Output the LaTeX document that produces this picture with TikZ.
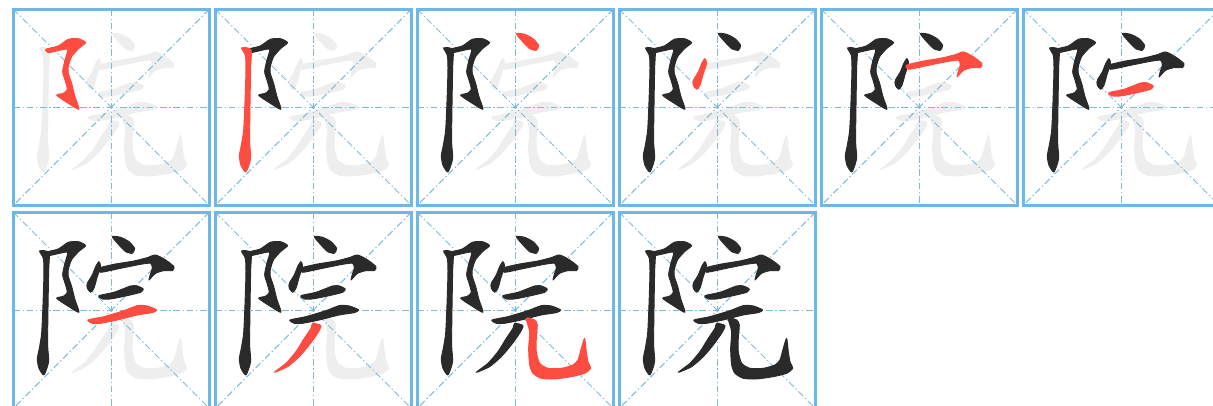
\documentclass[tikz,border=0pt]{standalone}
\usepackage{xcolor}
\definecolor{boxblue}{HTML}{6DB8EA}
\definecolor{guideblue}{HTML}{7DBBDC}
\definecolor{ghostgrey}{HTML}{EEEEEE}
\definecolor{inkblack}{HTML}{2A2A2A}
\definecolor{inkred}{HTML}{FF4C40}
\tikzset{
  strokeline/.style={smooth cycle, tension=0.4},
  strokefill/.style={fill=#1, draw=#1, line width=0.7pt, line join=round},
  guideline/.style={guideblue, line width=0.75pt, dash pattern=on 5pt off 2pt on 1pt off 2pt},
  boxline/.style={boxblue, line width=1.9pt}
}
% the nine strokes of the character, one cell wide
\newcommand{\drawstroke}[2]{%
  \ifcase#1\or
  \path[strokefill=#2] plot[strokeline] coordinates {(125,142) (163,132) (193,112) (223,110) (245,122) (225,139) (203,164) (193,194) (193,214) (203,244) (213,284) (225,322) (193,304) (158,280) (178,274) (190,262) (183,234) (176,209) (183,174) (191,142) (163,146) (133,152)};
  \or
  \path[strokefill=#2] plot[strokeline] coordinates {(107,138) (135,143) (134,200) (132,320) (131,420) (134,470) (120,510) (105,490) (100,462) (106,430) (113,385) (117,300) (120,200) (118,160)};
  \or
  \path[strokefill=#2] plot[strokeline] coordinates {(325,95) (350,97) (375,110) (392,130) (385,145) (365,140) (345,120)};
  \or
  \path[strokefill=#2] plot[strokeline] coordinates {(285,170) (290,185) (280,215) (270,250) (260,262) (250,250) (250,235) (265,210) (275,185)};
  \or
  \path[strokefill=#2] plot[strokeline] coordinates {(283,190) (330,178) (390,168) (430,158) (455,150) (485,165) (510,185) (505,197) (480,197) (455,205) (440,220) (435,225) (440,205) (445,190) (440,175) (410,178) (350,190) (290,202)};
  \or
  \path[strokefill=#2] plot[strokeline] coordinates {(285,272) (330,262) (380,243) (400,243) (418,252) (410,262) (370,272) (320,282) (295,282)};
  \or
  \path[strokefill=#2] plot[strokeline] coordinates {(252,345) (300,335) (360,317) (400,302) (430,303) (458,315) (445,323) (400,330) (340,345) (290,355) (265,355)};
  \or
  \path[strokefill=#2] plot[strokeline] coordinates {(320,355) (345,362) (335,385) (310,420) (280,455) (245,485) (205,502) (240,475) (270,440) (295,400) (315,370)};
  \or
  \path[strokefill=#2] plot[strokeline] coordinates {(355,340) (380,345) (388,360) (385,400) (385,440) (395,475) (420,490) (460,490) (495,480) (510,465) (520,430) (530,400) (535,440) (540,470) (548,490) (530,505) (490,515) (440,522) (400,520) (375,505) (365,480) (362,430) (365,380)};
  \fi
}
\begin{document}
\begin{tikzpicture}[x=0.25pt, y=-0.25pt]
  \useasboundingbox (0,0) rectangle (3639,1218);
  \clip (0,0) rectangle (3639,1218);
  \foreach \n/\px/\py in {1/13.3/9.3, 2/215.3/9.3, 3/417.3/9.3, 4/619.3/9.3, 5/821.3/9.3, 6/1023.3/9.3,
      7/13.3/212.3, 8/215.3/212.3, 9/417.3/212.3, 10/619.3/212.3} {
    \begin{scope}[shift={(3*\px-28, 3*\py-22)}]
      % strokes still to come
      \foreach \k in {1,...,9} {
        \ifnum\k>\n \drawstroke{\k}{ghostgrey}\fi
      }
      \draw[guideline] (28,22) -- (616,610);
      \draw[guideline] (616,22) -- (28,610);
      \draw[guideline] (322,22) -- (322,610);
      \draw[guideline] (28,316) -- (616,316);
      % strokes already written, then the current one
      \foreach \k in {1,...,9} {
        \ifnum\k<\n \drawstroke{\k}{inkblack}\fi
      }
      \foreach \k in {1,...,9} {
        \ifnum\k=\n \drawstroke{\k}{inkred}\fi
      }
      \draw[boxline] (28,22) rectangle (616,610);
    \end{scope}
  }
\end{tikzpicture}
\end{document}
